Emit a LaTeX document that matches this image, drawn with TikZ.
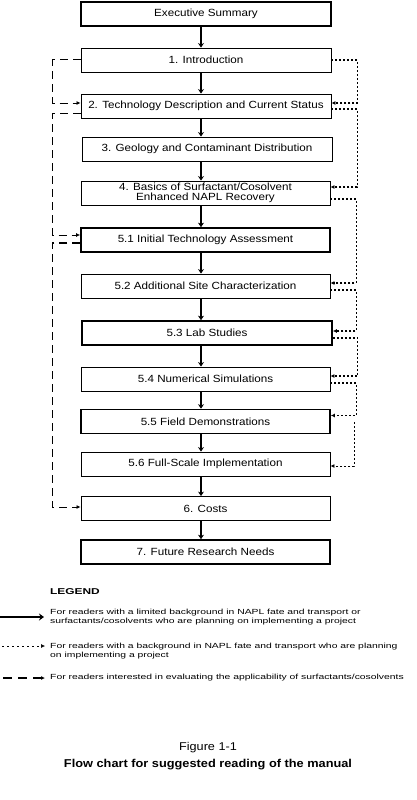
\documentclass[tikz,border=0pt]{standalone}
\usepackage{fontspec}
\setmainfont{Liberation Sans}
\newfontfamily\boxfont[FakeStretch=1.12]{Liberation Sans}
\newfontfamily\legfont[FakeStretch=1.4]{Liberation Sans}
\usetikzlibrary{arrows.meta}
\begin{document}
\begin{tikzpicture}[x=1pt,y=-1pt,
  box/.style={draw, line width=0.9pt, minimum width=250pt, minimum height=24pt, inner sep=1pt, align=center, font=\boxfont\fontsize{10.4}{10}\selectfont},
  tbox/.style={box, line width=1.7pt},
  flow/.style={line width=2.6pt, -{Stealth[length=4.5pt,width=6pt]}},
  dotl/.style={line width=1.1pt, dash pattern=on 2pt off 2pt, -{Latex[length=4pt,width=4pt]}},
  dashl/.style={line width=1pt, dash pattern=on 8pt off 5pt, -{Latex[length=4pt,width=4pt]}},
  leg/.style={anchor=west, align=left, inner sep=0pt, font=\legfont\fontsize{7.4}{9.5}\selectfont}
]
\useasboundingbox (0,0) rectangle (416,800);
\fill[white] (0,0) rectangle (416,800);

\node[tbox] (es) at (206,14) {Executive Summary};
\node[box] (intro) at (206,60) {1. Introduction};
\node[box] (tech) at (206,106) {2. Technology Description and Current Status};
\node[box] (geo) at (207,149) {3. Geology and Contaminant Distribution};
\node[box, minimum width=249pt] (bas) at (205.5,193) {4. Basics of Surfactant/Cosolvent\\Enhanced NAPL Recovery};
\node[tbox, minimum width=249pt] (s51) at (205.5,240) {5.1 Initial Technology Assessment};
\node[box, minimum width=249pt] (s52) at (205.5,286) {5.2 Additional Site Characterization};
\node[tbox] (s53) at (207,333) {5.3 Lab Studies};
\node[box, minimum width=249pt] (s54) at (205.5,379) {5.4 Numerical Simulations};
\node[tbox, minimum width=249pt] (s55) at (205.5,421.5) {5.5 Field Demonstrations};
\node[box, minimum width=249pt] (s56) at (205.5,464) {5.6 Full-Scale Implementation};
\node[box, minimum width=249pt] (cost) at (205.5,508.5) {6. Costs};
\node[tbox, minimum width=249pt] (fut) at (205.5,552) {7. Future Research Needs};

% main flow
\foreach \a/\b in {es/intro,intro/tech,tech/geo,geo/bas,bas/s51,s51/s52,s52/s53,s53/s54,s54/s55,s55/s56,s56/cost,cost/fut}
  \draw[flow] (\a.south -| 201,0) -- (\b.north -| 201,0);

% left dashed
\draw[dashl] (intro.west) -- ++(-28,0) |- ([yshift=3pt]tech.west);
\draw[dashl] ([yshift=-7pt]tech.west) -- ++(-28,0) |- ([yshift=5pt]s51.west);
\draw[dashl] ([yshift=-3pt]s51.west) -- ++(-28,0) |- ([yshift=1.5pt]cost.west);
\draw[line width=1.6pt, dash pattern=on 8pt off 5pt] ([yshift=-3pt]s51.west) -- ++(-28,0);

% right dotted
\draw[dotl] (intro.east) -- ++(26,0) |- ([yshift=3pt]tech.east);
\draw[dotl] ([yshift=-3pt]tech.east) -- ++(26,0) |- ([yshift=6pt]bas.east);
\draw[dotl] ([yshift=-6pt]bas.east) -- ++(26,0) |- ([yshift=3pt]s52.east);
\draw[dotl] ([yshift=-4pt]s52.east) -- ++(26,0) |- ([yshift=2pt]s53.east);
\draw[dotl] ([yshift=-5pt]s53.east) -- ++(25,0) |- ([yshift=3pt]s54.east);
\draw[dotl] ([yshift=-4pt]s54.east) -- ++(26,0) |- ([yshift=6pt]s55.east);
\coordinate (c56) at (354,422);
\draw[dotl, line width=0.8pt] (c56) |- ([yshift=-2pt]s56.east);

% legend
\node[anchor=west, inner sep=0pt, font=\legfont\bfseries\fontsize{8.5}{8.5}\selectfont] (legt) at (50,592) {LEGEND};
\coordinate (la1) at (0,617);
\coordinate (lb1) at (44,617);
\draw[line width=2.6pt, -{Stealth[length=5pt,width=7pt]}] (la1) -- (lb1);
\node[leg] (l1) at (50,617) {For readers with a limited background in NAPL fate and transport or\\surfactants/cosolvents who are planning on implementing a project};
\coordinate (la2) at (2,646);
\coordinate (lb2) at (45,646);
\draw[line width=0.6pt, dash pattern=on 2pt off 3pt, -{Latex[length=4pt,width=4pt]}] (la2) -- (lb2);
\node[leg] (l2) at (50,651) {For readers with a background in NAPL fate and transport who are planning\\on implementing a project};
\coordinate (la3) at (3,678);
\coordinate (lb3) at (45,678);
\draw[line width=1.2pt, dash pattern=on 9pt off 6pt, -{Latex[length=4pt,width=4pt]}] (la3) -- (lb3);
\node[leg] (l3) at (50,678) {For readers interested in evaluating the applicability of surfactants/cosolvents};

% caption
\node[font=\boxfont\fontsize{11.3}{11}\selectfont, inner sep=0pt] (fig) at (208,748) {Figure 1-1};
\node[font=\boxfont\bfseries\fontsize{11.4}{11}\selectfont, inner sep=0pt] (cap) at (208,765) {Flow chart for suggested reading of the manual};
\end{tikzpicture}
\end{document}
